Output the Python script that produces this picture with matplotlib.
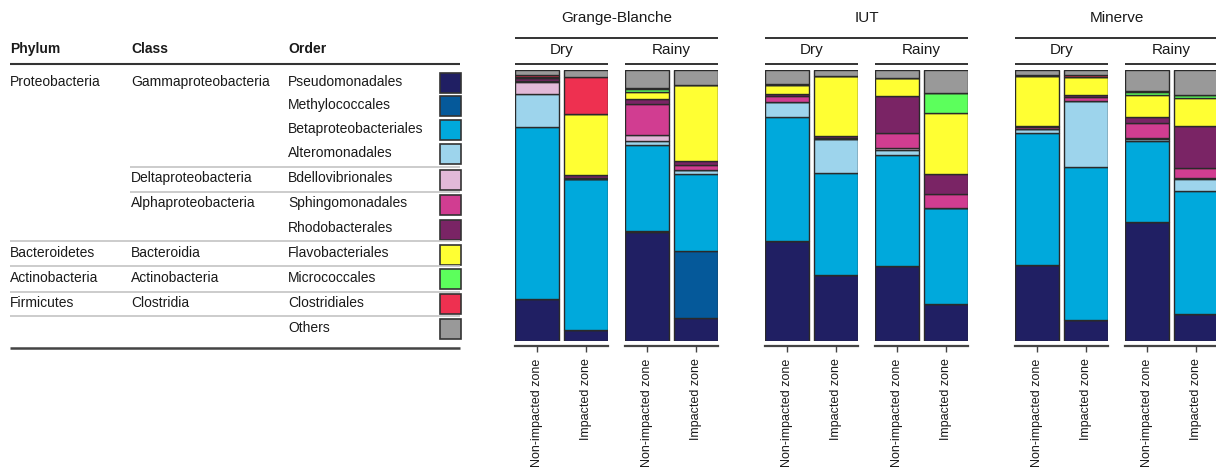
import matplotlib
matplotlib.use("Agg")
import matplotlib.pyplot as plt
from matplotlib.lines import Line2D
from matplotlib.patches import Rectangle
import numpy as np

plt.rcParams["font.family"] = ["Liberation Sans", "DejaVu Sans"]

# ---- taxonomy (bottom-to-top stacking order) ----
orders = ["Pseudomonadales", "Methylococcales", "Betaproteobacteriales",
          "Alteromonadales", "Bdellovibrionales", "Sphingomonadales",
          "Rhodobacterales", "Flavobacteriales", "Micrococcales",
          "Clostridiales", "Others"]
phylum_labels = ["Proteobacteria", "", "", "", "", "", "",
                 "Bacteroidetes", "Actinobacteria", "Firmicutes", ""]
class_labels = ["Gammaproteobacteria", "", "", "", "Deltaproteobacteria",
                "Alphaproteobacteria", "", "Bacteroidia", "Actinobacteria",
                "Clostridia", ""]
colors = ["#201f63", "#05599a", "#00a9dc", "#9dd4ec", "#e2b9d8", "#d13d91",
          "#7a2465", "#ffff33", "#5cff5c", "#ee3050", "#999999"]

sites = ["Grange-Blanche", "IUT", "Minerve"]
seasons = ["Dry", "Rainy"]
zones = ["Non-impacted zone", "Impacted zone"]

# relative abundance (%) per order, [non-impacted, impacted]
grange_dry = [[15.4, 0, 63.6, 12.1, 4.3, 0.6, 1.2, 0, 0.3, 0.5, 2.0],
              [4.1, 0, 55.8, 0, 0, 0.4, 0.8, 22.5, 0, 14.0, 2.4]]
grange_rainy = [[40.1, 0.5, 31.7, 1.5, 2.1, 11.5, 1.8, 2.7, 1.0, 0.3, 6.8],
                [8.4, 24.7, 28.6, 1.5, 0, 1.6, 1.5, 28.1, 0, 0, 5.6]]
iut_dry = [[36.8, 0, 45.9, 5.6, 0, 2.1, 0.6, 3.5, 0, 0.3, 5.2],
           [24.4, 0, 37.5, 12.7, 0, 0.3, 0.8, 22.0, 0, 0, 2.3]]
iut_rainy = [[27.5, 0, 41.0, 2.1, 0.6, 5.4, 13.7, 6.6, 0, 0.3, 2.8],
             [13.6, 0, 35.6, 0, 0, 5.2, 7.2, 22.5, 7.3, 0.2, 8.4]]
minerve_dry = [[28.0, 0, 48.9, 1.5, 0, 0.4, 0.6, 18.3, 0, 0.4, 1.9],
               [7.7, 0, 56.5, 24.4, 0, 1.4, 0.6, 6.9, 0, 0.6, 1.9]]
minerve_rainy = [[43.8, 0, 30.0, 0.6, 0.5, 5.6, 2.2, 8.2, 1.0, 0.3, 7.8],
                 [10.1, 0, 45.1, 4.7, 0.3, 3.7, 15.6, 10.3, 0.9, 0, 9.3]]

abundance = {
    ("Grange-Blanche", "Dry"): grange_dry,
    ("Grange-Blanche", "Rainy"): grange_rainy,
    ("IUT", "Dry"): iut_dry,
    ("IUT", "Rainy"): iut_rainy,
    ("Minerve", "Dry"): minerve_dry,
    ("Minerve", "Rainy"): minerve_rainy,
}

W, H = 1216, 473
fig = plt.figure(figsize=(W / 100, H / 100), dpi=100)
fig.patch.set_facecolor("white")


def fx(px):
    return px / W


def fy(py):
    return 1 - py / H


def hline(x0, x1, y, color, lw):
    fig.add_artist(Line2D([fx(x0), fx(x1)], [fy(y), fy(y)],
                          transform=fig.transFigure, color=color, lw=lw,
                          solid_capstyle="butt"))


TXT = "#1a1a1a"
EDGE = "#2a2a2a"

# ---- stacked bar panels ----
group_w = 93
bar_w = 44 / 49
bar_top, bar_bot = 70, 341
for i, site in enumerate(sites):
    site_left = 515 + 250 * i
    fig.text(fx(site_left + 101.5), fy(18), site, ha="center", va="center",
             fontsize=11, color=TXT)
    hline(site_left, site_left + 203, 38, "#333333", 1.4)
    for j, season in enumerate(seasons):
        left = site_left + 110 * j
        ax = fig.add_axes([fx(left), fy(bar_bot), group_w / W,
                           (bar_bot - bar_top) / H])
        data = np.array(abundance[(site, season)], dtype=float)
        x = np.arange(len(zones))
        bottom = np.zeros(len(zones))
        for k in range(len(orders)):
            vals = data[:, k]
            ax.bar(x, vals, bottom=bottom, width=bar_w, color=colors[k],
                   edgecolor=EDGE, linewidth=1.0)
            bottom += vals
        ax.set_xlim(-0.5 * bar_w, 1 + 0.5 * bar_w)
        ax.set_ylim(0, 100)
        for s in ("top", "left", "right"):
            ax.spines[s].set_visible(False)
        ax.spines["bottom"].set_position(("outward", 3.5))
        ax.spines["bottom"].set_color("#444444")
        ax.spines["bottom"].set_linewidth(1.6)
        ax.set_yticks([])
        ax.set_xticks(x)
        ax.set_xticklabels(zones, rotation=90, fontsize=9, color=TXT)
        ax.tick_params(axis="x", length=4, width=1.0, color="#444444", pad=5)
        ax.set_facecolor("none")
        # facet strip
        fig.text(fx(left + group_w / 2), fy(50), season, ha="center",
                 va="center", fontsize=11, color=TXT)
        hline(left, left + group_w, 64, "#333333", 1.4)

# ---- taxonomy legend table ----
row_y = [81.7, 105, 129, 152.7, 178.3, 203.3, 228.3, 253.3, 277.7, 302.7,
         327.7]
col_x = [10, 131, 288]
for cx, head in zip(col_x, ["Phylum", "Class", "Order"]):
    fig.text(fx(cx), fy(49.3), head, ha="left", va="center", fontsize=10,
             fontweight="bold", color=TXT)
hline(10, 460, 64, "#333333", 1.5)
for k in range(len(orders)):
    y = row_y[k]
    if phylum_labels[k]:
        fig.text(fx(col_x[0]), fy(y), phylum_labels[k], ha="left",
                 va="center", fontsize=10, color=TXT)
    if class_labels[k]:
        fig.text(fx(col_x[1]), fy(y), class_labels[k], ha="left",
                 va="center", fontsize=10, color=TXT)
    fig.text(fx(col_x[2]), fy(y), orders[k], ha="left", va="center",
             fontsize=10, color=TXT)
    fig.add_artist(Rectangle((fx(440), fy(y + 1.5 + 10)), 21 / W, 20 / H,
                             transform=fig.transFigure, facecolor=colors[k],
                             edgecolor="#333333", lw=1.2))

SEP = "#c4c4c4"
hline(130, 460, 166.7, SEP, 1.2)
hline(130, 460, 192, SEP, 1.2)
for y in (240.7, 266, 291.7, 316):
    hline(10, 460, y, SEP, 1.2)
hline(10, 460, 347.5, "#444444", 1.8)

fig.savefig("out.png", dpi=100)
